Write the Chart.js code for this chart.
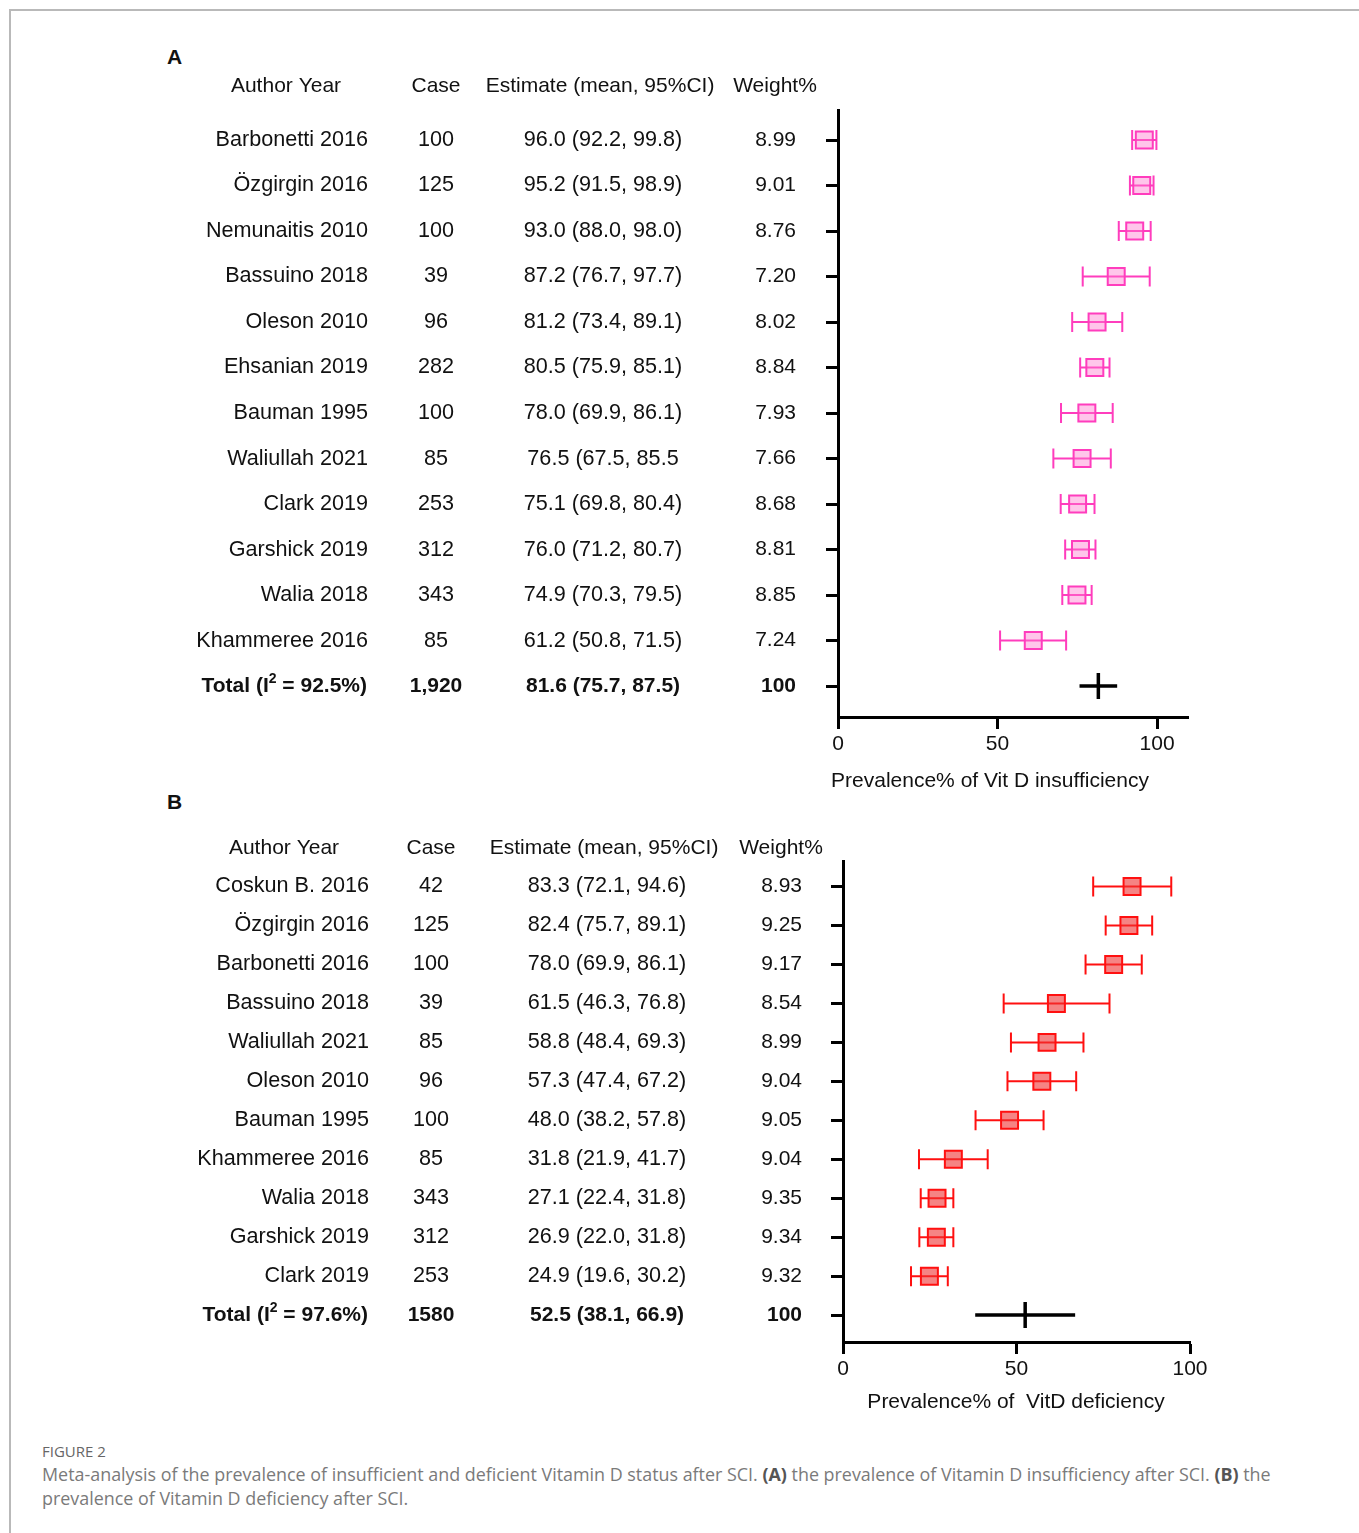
<!DOCTYPE html>
<html>
<head>
<meta charset="utf-8">
<script src="https://cdn.jsdelivr.net/npm/chart.js@4.4.1/dist/chart.umd.min.js"></script>
<style>
  html, body { margin: 0; padding: 0; background: #fff; }
  body { width: 1359px; height: 1533px; position: relative; overflow: hidden; font-family: "Liberation Sans", Arial, sans-serif; }
  .frame { position: absolute; left: 9px; top: 9px; right: -10px; bottom: -10px; border-top: 2px solid #b9b9b9; border-left: 2px solid #b9b9b9; }
  canvas { position: absolute; left: 0; }
  #chartA { top: 40px; }
  #chartB { top: 820px; }
  .panel { position: absolute; left: 167px; font-weight: bold; font-size: 21px; line-height: 24px; color: #111; }
  .fig { position: absolute; left: 42px; top: 1441px; font-family: "Open Sans", sans-serif; font-size: 15px; line-height: 20px; color: #666; }
  .cap { position: absolute; left: 42px; top: 1462px; font-family: "Open Sans", sans-serif; font-size: 17.9px; line-height: 24px; color: #7a7a7a; white-space: nowrap; }
  .cap b { color: #555; }
</style>
</head>
<body>
<div class="frame"></div>
<div class="panel" style="top:45px">A</div>
<div class="panel" style="top:790px">B</div>
<canvas id="chartA" width="1359" height="780"></canvas>
<canvas id="chartB" width="1359" height="600"></canvas>
<div class="fig">FIGURE 2</div>
<div class="cap">Meta-analysis of the prevalence of insufficient and deficient Vitamin D status after SCI. <b>(A)</b> the prevalence of Vitamin D insufficiency after SCI. <b>(B)</b> the<br>prevalence of Vitamin D deficiency after SCI.</div>

<script>
// Panel A: Vit D insufficiency
const authorsA = ['Barbonetti 2016', 'Özgirgin 2016', 'Nemunaitis 2010', 'Bassuino 2018', 'Oleson 2010', 'Ehsanian 2019',
  'Bauman 1995', 'Waliullah 2021', 'Clark 2019', 'Garshick 2019', 'Walia 2018', 'Khammeree 2016'];
const casesA = ['100', '125', '100', '39', '96', '282', '100', '85', '253', '312', '343', '85'];
const meanA = [96.0, 95.2, 93.0, 87.2, 81.2, 80.5, 78.0, 76.5, 75.1, 76.0, 74.9, 61.2];
const lowA = [92.2, 91.5, 88.0, 76.7, 73.4, 75.9, 69.9, 67.5, 69.8, 71.2, 70.3, 50.8];
const highA = [99.8, 98.9, 98.0, 97.7, 89.1, 85.1, 86.1, 85.5, 80.4, 80.7, 79.5, 71.5];
const estA = ['96.0 (92.2, 99.8)', '95.2 (91.5, 98.9)', '93.0 (88.0, 98.0)', '87.2 (76.7, 97.7)', '81.2 (73.4, 89.1)',
  '80.5 (75.9, 85.1)', '78.0 (69.9, 86.1)', '76.5 (67.5, 85.5', '75.1 (69.8, 80.4)', '76.0 (71.2, 80.7)',
  '74.9 (70.3, 79.5)', '61.2 (50.8, 71.5)'];
const weightA = ['8.99', '9.01', '8.76', '7.20', '8.02', '8.84', '7.93', '7.66', '8.68', '8.81', '8.85', '7.24'];
const totalA = { i2: '92.5', cases: '1,920', mean: 81.6, low: 75.7, high: 87.5, est: '81.6 (75.7, 87.5)', weight: '100' };

// Panel B: Vit D deficiency
const authorsB = ['Coskun B. 2016', 'Özgirgin 2016', 'Barbonetti 2016', 'Bassuino 2018', 'Waliullah 2021', 'Oleson 2010',
  'Bauman 1995', 'Khammeree 2016', 'Walia 2018', 'Garshick 2019', 'Clark 2019'];
const casesB = ['42', '125', '100', '39', '85', '96', '100', '85', '343', '312', '253'];
const meanB = [83.3, 82.4, 78.0, 61.5, 58.8, 57.3, 48.0, 31.8, 27.1, 26.9, 24.9];
const lowB = [72.1, 75.7, 69.9, 46.3, 48.4, 47.4, 38.2, 21.9, 22.4, 22.0, 19.6];
const highB = [94.6, 89.1, 86.1, 76.8, 69.3, 67.2, 57.8, 41.7, 31.8, 31.8, 30.2];
const estB = ['83.3 (72.1, 94.6)', '82.4 (75.7, 89.1)', '78.0 (69.9, 86.1)', '61.5 (46.3, 76.8)', '58.8 (48.4, 69.3)',
  '57.3 (47.4, 67.2)', '48.0 (38.2, 57.8)', '31.8 (21.9, 41.7)', '27.1 (22.4, 31.8)', '26.9 (22.0, 31.8)', '24.9 (19.6, 30.2)'];
const weightB = ['8.93', '9.25', '9.17', '8.54', '8.99', '9.04', '9.05', '9.04', '9.35', '9.34', '9.32'];
const totalB = { i2: '97.6', cases: '1580', mean: 52.5, low: 38.1, high: 66.9, est: '52.5 (38.1, 66.9)', weight: '100' };

const xTicks = [0, 50, 100];
const FONT = '"Liberation Sans", Arial, sans-serif';

// whiskers, pooled cross and the text table, all placed on the chart's own scales
const forestPlugin = {
  id: 'forest',
  beforeDatasetsDraw(chart, args, o) {
    const { ctx, scales: { x, y } } = chart;
    ctx.save();
    ctx.strokeStyle = o.color;
    ctx.lineWidth = 2;
    o.low.forEach((lo, i) => {
      const yy = y.getPixelForValue(i);
      const x1 = x.getPixelForValue(lo), x2 = x.getPixelForValue(o.high[i]);
      ctx.beginPath();
      ctx.moveTo(x1, yy); ctx.lineTo(x2, yy);
      ctx.moveTo(x1, yy - 10); ctx.lineTo(x1, yy + 10);
      ctx.moveTo(x2, yy - 10); ctx.lineTo(x2, yy + 10);
      ctx.stroke();
    });
    ctx.restore();
  },
  afterDatasetsDraw(chart, args, o) {
    const { ctx, scales: { x, y } } = chart;
    const t = o.total, yy = y.getPixelForValue(o.low.length);
    const xm = x.getPixelForValue(t.mean);
    ctx.save();
    ctx.strokeStyle = '#000';
    ctx.lineWidth = 3.5;
    ctx.beginPath();
    ctx.moveTo(x.getPixelForValue(t.low), yy); ctx.lineTo(x.getPixelForValue(t.high), yy);
    ctx.moveTo(xm, yy - 13); ctx.lineTo(xm, yy + 13);
    ctx.stroke();
    ctx.restore();
  },
  afterDraw(chart, args, o) {
    const { ctx, scales: { y } } = chart;
    const n = o.authors.length;
    ctx.save();
    ctx.fillStyle = '#111';
    ctx.textBaseline = 'middle';
    ctx.font = `21px ${FONT}`;
    ctx.textAlign = 'center';
    o.heads.forEach(([txt, hx]) => ctx.fillText(txt, hx, o.headY));

    ctx.font = `21.6px ${FONT}`;
    o.authors.forEach((name, i) => {
      const yy = y.getPixelForValue(i);
      ctx.textAlign = 'right';
      ctx.fillText(name, o.authorRight, yy);
      ctx.textAlign = 'center';
      ctx.fillText(o.cases[i], o.caseX, yy);
      ctx.fillText(o.est[i], o.estX, yy);
    });

    // pooled row, bold, with superscript 2
    const t = o.total, yy = y.getPixelForValue(n);
    const big = `bold 21px ${FONT}`, small = `bold 14px ${FONT}`;
    const a = 'Total (I', b = '2', c = ` = ${t.i2}%)`;
    ctx.font = big;
    const wa = ctx.measureText(a).width, wc = ctx.measureText(c).width;
    ctx.font = small;
    const wb = ctx.measureText(b).width;
    const x0 = o.authorRight - 1 - (wa + wb + wc);
    ctx.textAlign = 'left';
    ctx.font = big; ctx.fillText(a, x0, yy);
    ctx.font = small; ctx.fillText(b, x0 + wa, yy - 7);
    ctx.font = big; ctx.fillText(c, x0 + wa + wb, yy);
    ctx.textAlign = 'center';
    ctx.fillText(t.cases, o.caseX, yy);
    ctx.fillText(t.est, o.estX, yy);

    // axis title
    ctx.font = `21px ${FONT}`;
    ctx.fillText(o.title, o.titleX, o.titleY);
    ctx.restore();
  },
};

function makeForest(id, cfg) {
  const rows = cfg.authors.length;
  const weights = cfg.weights.concat([cfg.total.weight]);
  return new Chart(document.getElementById(id), {
    type: 'scatter',
    data: {
      datasets: [{
        data: cfg.mean.map((m, i) => ({ x: m, y: i })),
        pointStyle: 'rect',
        radius: 12,
        borderWidth: 2,
        borderColor: cfg.color,
        backgroundColor: cfg.fill,
      }],
    },
    plugins: [forestPlugin],
    options: {
      responsive: false,
      devicePixelRatio: 1,
      animation: false,
      layout: { padding: { left: 0, right: 1359 - cfg.plotRight, top: cfg.plotTop, bottom: 0 } },
      plugins: {
        legend: { display: false },
        tooltip: { enabled: false },
        forest: {
          color: cfg.color, low: cfg.low, high: cfg.high, total: cfg.total,
          authors: cfg.authors, cases: cfg.cases, est: cfg.est,
          heads: cfg.heads, headY: cfg.headY, authorRight: cfg.authorRight, caseX: cfg.caseX, estX: cfg.estX,
          title: cfg.title, titleX: cfg.titleX, titleY: cfg.titleY,
        },
      },
      scales: {
        x: {
          type: 'linear', min: 0, max: cfg.xMax,
          afterFit: (s) => { s.height = cfg.xHeight; },
          afterBuildTicks: (s) => { s.ticks = xTicks.map((v) => ({ value: v })); },
          grid: { drawOnChartArea: false, tickLength: 12, tickWidth: 3, tickColor: '#000' },
          border: { display: true, width: 3, color: '#000' },
          ticks: { padding: 3, color: '#111', maxRotation: 0, font: { family: FONT, size: 21 } },
        },
        y: {
          type: 'linear', reverse: true, min: cfg.yMin, max: cfg.yMax,
          afterFit: (s) => { s.width = cfg.plotLeft; },
          afterBuildTicks: (s) => { s.ticks = weights.map((w, i) => ({ value: i })); },
          grid: { drawOnChartArea: false, tickLength: 12, tickWidth: 3, tickColor: '#000' },
          border: { display: true, width: 3, color: '#000' },
          ticks: {
            autoSkip: false, padding: cfg.weightPad, color: '#111',
            callback: (v, i) => weights[i],
            font: (c) => ({ family: FONT, size: 21, weight: c.index === rows ? 'bold' : 'normal' }),
          },
        },
      },
    },
  });
}

makeForest('chartA', {
  authors: authorsA, cases: casesA, mean: meanA, low: lowA, high: highA, est: estA, weights: weightA, total: totalA,
  color: '#ff3dbd', fill: 'rgba(255, 120, 205, 0.42)',
  plotLeft: 838, plotRight: 1188, plotTop: 70, xHeight: 103, xMax: 109.7, yMin: -0.66, yMax: 12.68, weightPad: 30,
  heads: [['Author Year', 286], ['Case', 436], ['Estimate (mean, 95%CI)', 600], ['Weight%', 775]],
  headY: 46, authorRight: 368, caseX: 436, estX: 603,
  title: 'Prevalence% of Vit D insufficiency', titleX: 990, titleY: 741,
});

makeForest('chartB', {
  authors: authorsB, cases: casesB, mean: meanB, low: lowB, high: highB, est: estB, weights: weightB, total: totalB,
  color: '#ff1010', fill: 'rgba(238, 50, 50, 0.6)',
  plotLeft: 843, plotRight: 1190, plotTop: 38, xHeight: 78, xMax: 100, yMin: -0.64, yMax: 11.69, weightPad: 29,
  heads: [['Author Year', 284], ['Case', 431], ['Estimate (mean, 95%CI)', 604], ['Weight%', 781]],
  headY: 28, authorRight: 369, caseX: 431, estX: 607,
  title: 'Prevalence% of  VitD deficiency', titleX: 1016, titleY: 582,
});
</script>
</body>
</html>
